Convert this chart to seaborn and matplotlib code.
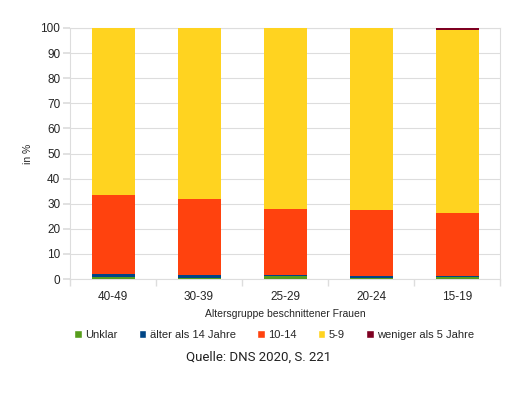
import pandas as pd
import numpy as np
import seaborn as sns
import matplotlib.pyplot as plt
from matplotlib.patches import Patch

sns.set_theme(style="white")
plt.rcParams['font.family'] = ['Liberation Sans', 'DejaVu Sans']

# data (percent per age group)
gruppen = ["40-49", "30-39", "25-29", "20-24", "15-19"]
unklar = [0.8, 0.5, 1.0, 0.3, 0.8]
aelter_14 = [1.2, 1.0, 0.6, 0.8, 0.4]
j10_14 = [31.5, 30.4, 26.3, 26.4, 25.1]
j5_9 = [66.5, 68.1, 72.1, 72.5, 73.0]
weniger_5 = [0.0, 0.0, 0.0, 0.0, 0.7]

serien = ["Unklar", "älter als 14 Jahre", "10-14", "5-9", "weniger als 5 Jahre"]
werte = [unklar, aelter_14, j10_14, j5_9, weniger_5]
farben = ["#579d1c", "#004586", "#ff420e", "#ffd320", "#7e0021"]

df = pd.DataFrame(dict(zip(serien, werte)), index=gruppen)
kum = df.cumsum(axis=1)

fig = plt.figure(figsize=(5.18, 3.98), dpi=100)
ax = fig.add_axes([70 / 518, 1 - 279 / 398, 430 / 518, 251 / 398])

# stacked bars: draw cumulative totals from top layer down
for s, c in reversed(list(zip(serien, farben))):
    sns.barplot(x=gruppen, y=kum[s].values, color=c, width=0.5,
                saturation=1, ax=ax, zorder=3, linewidth=0)

ax.set_ylim(0, 100)
ax.set_xlim(-0.5, 4.5)
ax.set_yticks(range(0, 101, 10))
ax.yaxis.grid(True, color="#dddddd", linewidth=0.8, zorder=0)
ax.set_axisbelow(True)
for sp in ax.spines.values():
    sp.set_color("#dddddd")
    sp.set_linewidth(0.8)

ax.tick_params(axis="y", left=True, length=5, color="#dddddd", labelsize=8.5, pad=2)
ax.tick_params(axis="x", bottom=False, labelsize=8.5, pad=3)
ax.set_xticks(np.arange(-0.5, 5, 1), minor=True)
ax.tick_params(axis="x", which="minor", bottom=True, length=5, color="#dddddd")

ax.set_ylabel("in %", fontsize=7.5, labelpad=5)
ax.set_xlabel("Altersgruppe beschnittener Frauen", fontsize=7.5, labelpad=4)

handles = [Patch(facecolor=c, label=s) for s, c in zip(serien, farben)]
fig.legend(handles=handles, loc="center", bbox_to_anchor=(274 / 518, 1 - 335 / 398),
           ncol=5, frameon=False, fontsize=8, handlelength=0.7, handleheight=0.7,
           handletextpad=0.3, columnspacing=1.9)

fig.text(0.5, 1 - 357 / 398, "Quelle: DNS 2020, S. 221", ha="center", va="center",
         fontsize=9.5, family=["Roboto", "DejaVu Sans"], color="#222222")

plt.savefig("out.png", dpi=100)
